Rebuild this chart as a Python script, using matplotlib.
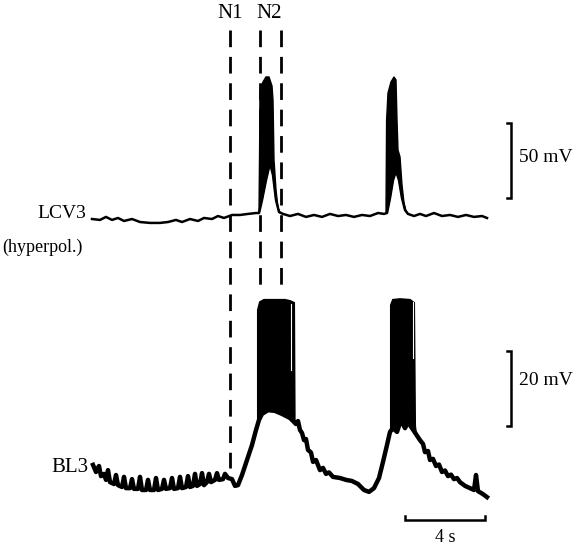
#!/usr/bin/env python3
"""Registro simultáneo LCV3 (hiperpolarizada) y BL3 con las fases N1 y N2."""

import matplotlib

matplotlib.use("Agg")
import matplotlib.pyplot as plt
import numpy as np

# tiempo en s; potencial en mV relativo a la línea de base de cada traza
LCV3_T = [
    0.00, 0.40, 0.70, 1.00, 1.30, 1.60, 2.00, 2.40, 2.90, 3.40, 3.80, 4.20,
    4.50, 4.90, 5.30, 5.60, 6.00, 6.30, 6.60, 7.00, 7.40, 7.80, 8.20,
    8.35, 8.50, 8.70, 8.90, 9.05, 9.20, 9.35, 9.55,
    9.90, 10.30, 10.70, 11.10, 11.50, 11.90, 12.30, 12.70, 13.10, 13.50,
    13.90, 14.30, 14.60,
    14.75, 14.90, 15.05, 15.20, 15.35, 15.50, 15.65, 15.80,
    16.10, 16.40, 16.70, 17.10, 17.50, 17.90, 18.30, 18.70, 19.10, 19.50,
    19.75,
]
LCV3_V = [
    -2.7, -3.3, -1.3, -3.3, -2.0, -4.0, -2.7, -4.7, -5.3, -5.3, -4.7, -3.3,
    -4.7, -2.7, -4.0, -2.0, -2.7, -0.7, -2.0, 0.0, 0.0, 0.7, 1.3,
    1.3, 10.0, 23.3, 34.7, 26.7, 10.0, 2.0, 0.7,
    -0.7, 0.7, -1.3, 0.0, -1.3, 0.7, -0.7, 0.0, -1.3, 0.0,
    -0.7, 1.3, 0.7,
    1.3, 11.3, 23.3, 29.3, 23.3, 11.3, 3.3, 0.7,
    -0.7, 0.7, -0.7, 1.3, -0.7, 0.0, -1.3, 0.0, -1.3, -0.7,
    -2.0,
]

# envolvente superior de las ráfagas de potenciales de acción
LCV3_BURST1_T = [8.35, 8.38, 8.40, 8.55, 8.70, 8.85, 9.00, 9.05, 9.10, 9.20, 9.30, 9.40]
LCV3_BURST1_V = [1.3, 43.3, 83.3, 88.7, 92.0, 92.0, 86.0, 76.7, 36.7, 16.7, 4.7, 1.3]
LCV3_BURST2_T = [14.70, 14.73, 14.80, 14.95, 15.10, 15.20, 15.25, 15.30, 15.40,
                 15.50, 15.60, 15.70, 15.80]
LCV3_BURST2_V = [1.3, 63.3, 81.3, 88.7, 92.0, 90.0, 63.3, 43.3, 38.7,
                 20.0, 8.0, 2.7, 0.7]

BL3_T = [
    0.05, 0.20, 0.35, 0.45, 0.60, 0.70, 0.80, 0.90, 1.10, 1.20,
    1.30, 1.50, 1.60, 1.70, 1.90, 2.00, 2.10, 2.30, 2.40, 2.50,
    2.70, 2.80, 2.90, 3.10, 3.20, 3.30, 3.50, 3.60, 3.70, 3.90,
    4.00, 4.10, 4.30, 4.40, 4.50, 4.70, 4.80, 4.90, 5.05, 5.15,
    5.25, 5.40, 5.50, 5.60, 5.75, 5.85, 5.95, 6.15, 6.25, 6.35,
    6.55, 6.65, 6.80, 7.00, 7.15, 7.30, 7.50, 7.75, 8.00, 8.20, 8.35,
    8.50, 8.80, 9.15, 9.50, 9.90, 10.20, 10.30, 10.40, 10.50, 10.60,
    10.70, 10.80, 10.95, 11.05, 11.20, 11.40, 11.55, 11.70, 11.85, 12.05,
    12.40, 12.70, 13.00, 13.30, 13.60, 13.85, 14.10,
    14.35, 14.55, 14.75, 14.90,
    15.05, 15.25, 15.45, 15.65, 15.80, 16.00, 16.20, 16.40, 16.55, 16.65,
    16.80, 16.90, 17.05, 17.20, 17.35, 17.50, 17.65, 17.80, 17.95, 18.10,
    18.25, 18.40, 18.65, 18.90, 19.10, 19.20, 19.30, 19.55, 19.75,
]
BL3_V = [
    5.9, 4.0, 5.6, 2.9, 3.5, 1.9, 4.5, 1.3, 0.8, 3.2,
    0.5, 0.0, 2.7, -0.3, -0.3, 2.1, -0.5, -0.5, 2.7, -0.8,
    -0.8, 1.9, -0.8, -0.8, 2.4, -0.8, -0.5, 1.9, -0.5, -0.3,
    2.4, -0.5, -0.3, 2.7, -0.3, 0.0, 2.9, 0.0, 0.3, 3.5,
    0.3, 0.8, 3.7, 0.5, 1.3, 3.5, 1.3, 1.9, 3.7, 1.9,
    2.1, 3.5, 2.4, 2.1, 0.3, 0.5, 3.2, 7.2, 11.2, 15.2, 17.9,
    19.5, 20.5, 20.3, 19.5, 18.4, 16.8, 17.6, 15.2, 14.4, 12.5,
    12.8, 9.9, 9.2, 6.7, 7.2, 4.5, 5.1, 3.5, 3.9, 2.7,
    2.4, 1.9, 1.6, 0.8, -0.8, -1.3, -0.3,
    2.4, 6.7, 11.2, 14.7,
    15.7, 14.7, 17.9, 15.7, 17.3, 15.7, 14.1, 12.5, 11.5, 9.3,
    9.6, 7.2, 7.5, 5.6, 6.0, 4.0, 4.4, 2.9, 3.3, 2.1,
    2.4, 1.3, 0.3, -0.3, -0.8, 3.2, -1.1, -1.9, -2.7,
]

BL3_BURST1_T = [8.30, 8.30, 8.40, 8.60, 9.65, 9.90, 10.10, 10.13, 10.20]
BL3_BURST1_V = [18.4, 47.2, 49.3, 49.9, 49.9, 49.6, 49.1, 17.9, 16.8]
BL3_BURST2_T = [14.95, 14.95, 15.05, 15.40, 15.90, 16.10, 16.15, 16.20]
BL3_BURST2_V = [14.7, 48.5, 49.9, 50.1, 49.9, 49.1, 16.3, 14.1]

# huecos blancos entre espigas al final de cada ráfaga de BL3
BL3_GAP_T = [9.95, 16.05]
BL3_GAP_V = [(31.2, 48.8), (34.4, 49.3)]

# inicio de las fases N1 y N2 (s)
N1_TIME = 6.9
N2_TIMES = [8.4, 9.45]

FONT = ["Liberation Serif", "DejaVu Serif"]


def burst_polygon(top_t, top_v, trace_t, trace_v):
    t = np.asarray(trace_t)
    v = np.asarray(trace_v)
    inside = (t >= top_t[0]) & (t <= top_t[-1])
    poly_t = np.concatenate([top_t, t[inside][::-1]])
    poly_v = np.concatenate([top_v, v[inside][::-1]])
    return poly_t, poly_v


def vertical_bar(axis, t, v0, v1, serif):
    axis.plot([t - serif, t, t, t - serif], [v0, v0, v1, v1],
              color="black", lw=1.8, solid_joinstyle="miter")


def main():
    plt.rcParams["font.family"] = FONT
    plt.rcParams["lines.scale_dashes"] = False
    figure = plt.figure(figsize=(5.76, 5.51), dpi=100)

    # misma escala de tiempo en ambas trazas; escalas de voltaje distintas
    top = figure.add_axes([0, 0, 1, 1])
    bottom = figure.add_axes([0, 0, 1, 1])
    for axis in (top, bottom):
        axis.set_xlim(-4.6, 24.2)
        axis.set_axis_off()
        axis.patch.set_visible(False)
    top.set_ylim(-224.0, 143.3)
    bottom.set_ylim(-17.07, 129.9)

    # LCV3
    top.plot(LCV3_T, LCV3_V, color="black", lw=1.8, solid_joinstyle="round")
    for burst_t, burst_v in ((LCV3_BURST1_T, LCV3_BURST1_V),
                             (LCV3_BURST2_T, LCV3_BURST2_V)):
        poly_t, poly_v = burst_polygon(burst_t, burst_v, LCV3_T, LCV3_V)
        top.fill(poly_t, poly_v, color="black", lw=1.0)

    # BL3
    bottom.plot(BL3_T, BL3_V, color="black", lw=3.2, solid_joinstyle="round")
    for burst_t, burst_v in ((BL3_BURST1_T, BL3_BURST1_V),
                             (BL3_BURST2_T, BL3_BURST2_V)):
        poly_t, poly_v = burst_polygon(burst_t, burst_v, BL3_T, BL3_V)
        bottom.fill(poly_t, poly_v, color="black", lw=1.5)
    for gap_t, (v0, v1) in zip(BL3_GAP_T, BL3_GAP_V):
        bottom.plot([gap_t, gap_t], [v0, v1], color="white", lw=0.8)

    # marcas N1 / N2
    dash = (0, (12, 7))
    blended = top.get_xaxis_transform()
    top.plot([N1_TIME, N1_TIME], [0.9456, 0.1506], transform=blended,
             color="black", lw=2.0, linestyle=dash)
    for n2 in N2_TIMES:
        top.plot([n2, n2], [0.9456, 0.4682], transform=blended,
                 color="black", lw=2.0, linestyle=dash)
    top.text(N1_TIME, 134, "N1", ha="center", va="center", fontsize=15)
    top.text(np.mean(N2_TIMES) - 0.05, 134, "N2", ha="center", va="center",
             fontsize=15)

    # rótulos de las trazas
    top.text(-0.3, 1.3, "LCV3", ha="right", va="center", fontsize=14)
    top.text(-0.45, -21.3, "(hyperpol.)", ha="right", va="center", fontsize=13)
    bottom.text(-0.2, 5.3, "BL3", ha="right", va="center", fontsize=15)

    # barras de calibración
    vertical_bar(top, 20.95, 11, 61, 0.2)
    top.text(21.35, 38, "50 mV", ha="left", va="center", fontsize=14)
    vertical_bar(bottom, 20.95, 16.3, 36.3, 0.2)
    bottom.text(21.35, 28.5, "20 mV", ha="left", va="center", fontsize=14)
    bottom.plot([15.65, 15.65, 19.65, 19.65], [-7.7, -8.8, -8.8, -7.7],
                color="black", lw=1.8, solid_joinstyle="miter")
    bottom.text(17.65, -13.6, "4 s", ha="center", va="center", fontsize=13)

    figure.savefig("out.png", dpi=100)
    plt.close(figure)


if __name__ == "__main__":
    main()
